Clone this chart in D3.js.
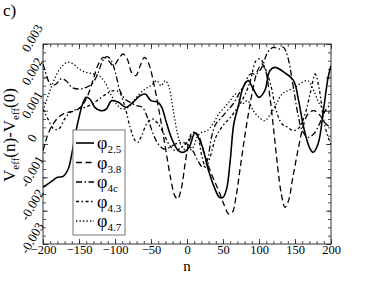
<!DOCTYPE html>
<meta charset="utf-8">
<script src="https://d3js.org/d3.v7.min.js"></script>
<style>
  body { margin: 0; background: #fff; }
</style>
<div id="chart"></div>
<script>

// data, values in units of 1e-3
var phi25 = [[-200,-1.3],[-190,-1.15],[-180,-1.0],[-172,-0.97],[-165,-0.75],[-160,-0.3],[-155,0.3],[-150,0.8],[-145,1.2],[-140,1.4],[-135,1.35],[-128,1.1],[-120,1.0],[-112,1.05],[-105,1.3],[-95,1.25],[-85,1.1],[-75,1.25],[-65,1.45],[-58,1.5],[-50,1.3],[-40,1.25],[-35,1.1],[-28,0.6],[-20,0.1],[-12,-0.2],[-5,-0.25],[3,-0.1],[11,0.33],[20,0.0],[30,-0.8],[38,-1.3],[45,-1.6],[50,-1.6],[55,-1.35],[60,-0.5],[65,0.6],[72,1.2],[78,1.7],[85,1.9],[92,1.65],[100,1.4],[108,1.6],[115,2.2],[122,2.3],[135,2.15],[148,1.9],[155,1.3],[162,0.5],[170,-0.1],[175,-0.25],[182,0.0],[190,1.1],[196,2.0],[200,2.35]]

var phi38 = [[-200,-0.2],[-193,0.3],[-186,0.6],[-176,0.85],[-165,0.95],[-155,1.0],[-146,1.15],[-138,1.45],[-130,1.95],[-123,2.4],[-116,2.6],[-109,2.5],[-102,2.35],[-95,2.55],[-89,2.7],[-83,2.55],[-77,2.15],[-71,2.05],[-65,2.35],[-59,2.6],[-53,2.4],[-46,1.8],[-38,0.9],[-30,-0.1],[-23,-1.0],[-17,-1.55],[-13,-1.65],[-8,-1.35],[-2,-0.5],[4,0.15],[10,0.35],[16,0.25],[24,-0.3],[34,-0.9],[44,-1.4],[52,-1.85],[58,-2.1],[63,-2.05],[68,-1.6],[74,-0.7],[80,0.2],[86,1.0],[92,1.7],[98,2.2],[104,2.4],[109,2.2],[114,1.6],[120,0.5],[126,-0.7],[131,-1.5],[136,-1.9],[141,-1.7],[147,-1.0],[154,-0.2],[161,0.5],[168,0.9],[176,1.0],[185,0.85],[193,0.6],[200,0.5]]

var phi4c = [[-200,2.4],[-195,2.05],[-190,1.8],[-183,1.78],[-175,1.95],[-168,1.9],[-160,1.7],[-150,1.65],[-140,1.7],[-132,1.8],[-124,2.1],[-117,2.5],[-111,2.62],[-105,2.5],[-99,2.1],[-93,1.6],[-86,1.35],[-79,1.25],[-70,1.15],[-62,1.1],[-55,0.8],[-47,0.3],[-40,0.0],[-32,-0.15],[-24,-0.1],[-16,0.0],[-8,0.05],[0,0.0],[8,-0.2],[15,-0.5],[22,-0.7],[28,-0.5],[34,0.2],[40,0.6],[48,0.8],[56,1.0],[64,1.2],[72,1.5],[80,1.8],[88,2.1],[96,2.1],[104,2.3],[112,2.75],[120,2.9],[128,2.85],[134,2.9],[140,2.6],[147,1.8],[154,0.9],[160,0.4],[168,0.2],[176,0.3],[184,0.6],[192,1.0],[200,1.2]]

var phi43 = [[-200,1.05],[-192,0.7],[-185,0.45],[-178,0.45],[-170,0.75],[-162,0.95],[-152,1.05],[-142,1.1],[-132,1.2],[-122,1.35],[-112,1.5],[-102,1.6],[-94,1.55],[-86,1.1],[-79,0.5],[-72,0.1],[-68,0.05],[-63,0.25],[-56,0.6],[-48,0.75],[-40,0.6],[-32,0.3],[-24,-0.05],[-16,-0.2],[-8,-0.1],[0,0.05],[8,0.35],[14,0.3],[20,-0.3],[26,-0.7],[32,-0.4],[40,0.2],[48,0.5],[56,0.7],[64,0.9],[72,1.15],[80,1.45],[88,1.9],[96,2.5],[102,2.55],[108,2.3],[116,1.8],[124,1.0],[132,0.6],[140,0.5],[148,0.4],[156,0.5],[164,0.9],[172,1.6],[178,2.1],[184,1.6],[190,0.7],[196,0.2],[200,0.0]]

var phi47 = [[-200,1.0],[-192,1.5],[-184,1.95],[-175,2.3],[-166,2.45],[-158,2.4],[-150,2.25],[-140,2.15],[-130,2.1],[-122,2.05],[-114,1.85],[-106,1.5],[-98,1.2],[-90,1.05],[-82,1.1],[-74,1.3],[-66,1.5],[-58,1.65],[-50,1.75],[-42,1.9],[-36,1.75],[-30,1.9],[-25,1.7],[-19,1.0],[-13,0.3],[-7,-0.1],[0,-0.2],[7,-0.15],[14,0.2],[20,0.35],[28,0.4],[36,0.6],[44,0.9],[52,1.1],[60,1.3],[68,1.5],[76,1.2],[84,1.3],[92,1.0],[100,0.8],[108,0.7],[116,0.9],[124,1.2],[132,1.5],[140,1.6],[150,1.7],[160,1.85],[168,1.9],[176,1.6],[184,1.2],[192,1.0],[200,0.9]]

var xTicks = [-200, -150, -100, -50, 0, 50, 100, 150, 200]
var yTicks = [-3, -2, -1, 0, 1, 2, 3]
var yTickLabels = ["-0.003", "-0.002", "-0.001", "0", "0.001", "0.002", "0.003"]
var seriesNames = ["2.5", "3.8", "4c", "4.3", "4.7"]

var FONT = "'Liberation Serif', 'Times New Roman', 'DejaVu Serif', serif"
var width = 374, height = 289
var margin = {left: 43, right: 43, top: 44, bottom: 45}

var svg = d3.select("#chart").append("svg")
  .attr("width", width)
  .attr("height", height)
  .style("font-family", FONT)

var x = d3.scaleLinear().domain([-200, 200]).range([margin.left, width - margin.right])
var y = d3.scaleLinear().domain([-3, 3]).range([height - margin.bottom, margin.top])

// minor ticks
var xMinor = d3.range(-200, 201, 10)
var yMinor = d3.range(-3, 3.01, 0.25)

function tickAxis(axis, scale, minor, major, tr, showLabels) {
  var g = svg.append("g").attr("transform", tr)
  g.call(axis(scale).tickValues(minor).tickSize(-3).tickFormat(""))
  var g2 = svg.append("g").attr("transform", tr)
  g2.call(axis(scale).tickValues(major).tickSize(-5).tickPadding(1)
    .tickFormat(showLabels ? d3.format("d") : ""))
  g.select(".domain").remove()
  g2.select(".domain").remove()
  g.attr("font-family", null)
  g2.attr("font-family", null)
  svg.selectAll(".tick line").attr("stroke", "#222").attr("stroke-width", 0.8)
  return g2
}

var bottomAx = tickAxis(d3.axisBottom, x, xMinor, xTicks, "translate(0," + y(-3) + ")", true)
bottomAx.selectAll("text").attr("font-size", 12.5).style("font-family", FONT).attr("fill", "#000")
tickAxis(d3.axisTop, x, xMinor, xTicks, "translate(0," + y(3) + ")", false)
tickAxis(d3.axisLeft, y, yMinor, yTicks, "translate(" + x(-200) + ",0)", false)
tickAxis(d3.axisRight, y, yMinor, yTicks, "translate(" + x(200) + ",0)", false)

// frame
svg.append("rect")
  .attr("x", x(-200)).attr("y", y(3))
  .attr("width", x(200) - x(-200)).attr("height", y(-3) - y(3))
  .attr("fill", "none").attr("stroke", "#333").attr("stroke-width", 1)

// rotated y tick labels
svg.selectAll(".ylab").data(yTicks).enter().append("text")
  .attr("class", "ylab")
  .attr("font-size", 13)
  .style("font-family", FONT)
  .attr("text-anchor", "middle")
  .attr("transform", function(d) { return "translate(32," + (y(d) - 6) + ") rotate(-60)" })
  .attr("dy", "0.35em")
  .text(function(d, i) { return yTickLabels[i] })

// curves
var line = d3.line()
  .x(function(d) { return x(d[0]) })
  .y(function(d) { return y(d[1]) })
  .curve(d3.curveCatmullRom.alpha(0.5))

var styles = [
  {w: 1.6, dash: null},
  {w: 1.3, dash: "6,3.5"},
  {w: 1.3, dash: "6,2.5,1.5,2.5"},
  {w: 1.3, dash: "3,2.5,1.5,2.5"},
  {w: 1.3, dash: "1.3,2.2"}
]
var allSeries = [phi25, phi38, phi4c, phi43, phi47]

svg.append("defs").append("clipPath").attr("id", "clip")
  .append("rect").attr("x", x(-200)).attr("y", y(3))
  .attr("width", x(200) - x(-200)).attr("height", y(-3) - y(3))

var plot = svg.append("g").attr("clip-path", "url(#clip)")
allSeries.forEach(function(s, i) {
  plot.append("path")
    .attr("d", line(s))
    .attr("fill", "none")
    .attr("stroke", "#000")
    .attr("stroke-width", styles[i].w)
    .attr("stroke-dasharray", styles[i].dash)
})

// legend
var lg = svg.append("g")
lg.append("rect").attr("x", 73).attr("y", 130).attr("width", 52).attr("height", 105)
  .attr("fill", "#fff").attr("stroke", "#777").attr("stroke-width", 1)
seriesNames.forEach(function(name, i) {
  var yy = 143 + i * 19.5
  lg.append("line").attr("x1", 76).attr("x2", 94).attr("y1", yy).attr("y2", yy)
    .attr("stroke", "#000").attr("stroke-width", styles[i].w)
    .attr("stroke-dasharray", styles[i].dash)
  var t = lg.append("text").attr("x", 97).attr("y", yy + 6).attr("font-size", 18)
    .style("font-family", FONT)
  t.append("tspan").text("\u03c6")
  t.append("tspan").attr("font-size", 11).attr("dy", 4).text(name)
})

// axis titles
svg.append("text").attr("x", x(0)).attr("y", 271).attr("text-anchor", "middle")
  .attr("font-size", 15).style("font-family", FONT).text("n")

var yl = svg.append("text")
  .attr("transform", "translate(15,135) rotate(-90)")
  .attr("text-anchor", "middle")
  .attr("font-size", 17)
  .style("font-family", FONT)
yl.append("tspan").text("V")
yl.append("tspan").attr("font-size", 11).attr("dy", 4).text("eff")
yl.append("tspan").attr("dy", -4).text("(n)-V")
yl.append("tspan").attr("font-size", 11).attr("dy", 4).text("eff")
yl.append("tspan").attr("dy", -4).text("(0)")

svg.append("text").attr("x", 3).attr("y", 16).attr("font-size", 17)
  .style("font-family", FONT).text("c)")

</script>
